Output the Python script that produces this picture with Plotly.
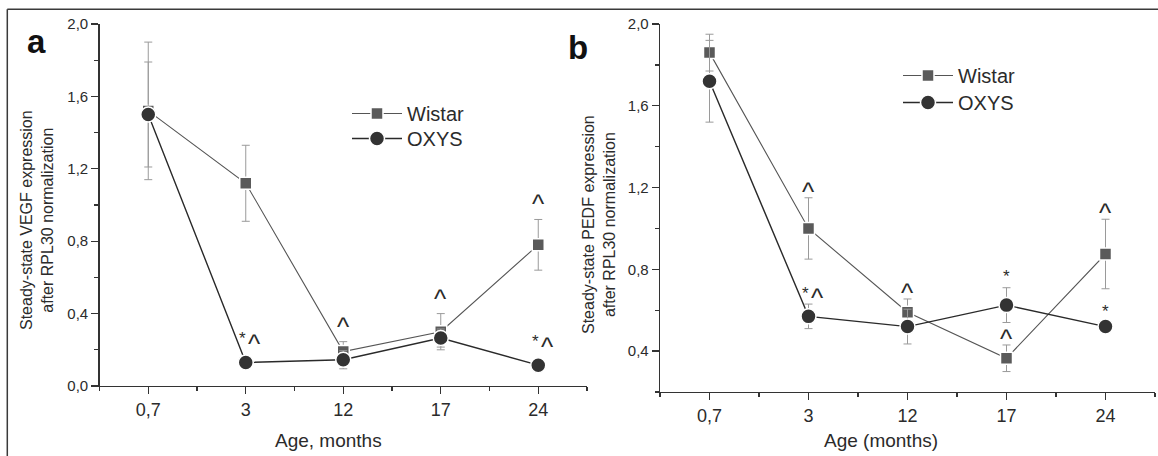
import plotly.graph_objects as go

# ---------------- data ----------------
ages = ["0,7", "3", "12", "17", "24"]

vegf_wistar = [1.52, 1.12, 0.19, 0.30, 0.78]
vegf_wistar_err = [0.38, 0.21, 0.055, 0.10, 0.14]
vegf_oxys = [1.50, 0.13, 0.145, 0.265, 0.115]
vegf_oxys_err = [0.29, 0.02, 0.05, 0.05, 0.02]
vegf_wistar_marks = ["", "", "^", "^", "^"]
vegf_oxys_marks = ["", "*^", "", "", "*^"]

pedf_wistar = [1.86, 1.00, 0.59, 0.365, 0.875]
pedf_wistar_err = [0.09, 0.15, 0.065, 0.065, 0.17]
pedf_oxys = [1.72, 0.57, 0.52, 0.625, 0.52]
pedf_oxys_err = [0.20, 0.06, 0.085, 0.085, 0.02]
pedf_wistar_marks = ["", "^", "^", "^", "^"]
pedf_oxys_marks = ["", "*^", "", "*", "*"]

series_names = ["Wistar", "OXYS"]
panel_labels = ["a", "b"]
y_titles = ["Steady-state VEGF expression<br>after RPL30 normalization",
            "Steady-state PEDF expression<br>after RPL30 normalization"]
x_titles = ["Age, months", "Age (months)"]

# ---------------- layout helpers ----------------
W, H = 1158, 456
FONT = "Liberation Sans, Arial, Helvetica, sans-serif"
TXT = "#2b2b2b"
AX = "#333333"


def fx(px):
    return px / W


def fy(py):
    return 1 - py / H


xpos = list(range(len(ages)))

fig = go.Figure()

styles = {
    "Wistar": dict(symbol="square", size=12, color="#5a5a5a", lcolor="#555555", lwidth=1.1),
    "OXYS": dict(symbol="circle", size=15, color="#333333", lcolor="#2a2a2a", lwidth=1.4),
}

panels = [
    dict(xa="x", ya="y", legends=["legend", "legend2"],
         data=[(vegf_wistar, vegf_wistar_err, vegf_wistar_marks),
               (vegf_oxys, vegf_oxys_err, vegf_oxys_marks)], gap=17),
    dict(xa="x2", ya="y2", legends=["legend3", "legend4"],
         data=[(pedf_wistar, pedf_wistar_err, pedf_wistar_marks),
               (pedf_oxys, pedf_oxys_err, pedf_oxys_marks)], gap=8),
]

annotations = []
for p in panels:
    for name, lg, (vals, errs, marks) in zip(series_names, p["legends"], p["data"]):
        st = styles[name]
        fig.add_trace(go.Scatter(
            x=xpos, y=vals, name=name, mode="lines+markers",
            xaxis=p["xa"], yaxis=p["ya"], legend=lg,
            line=dict(color=st["lcolor"], width=st["lwidth"]),
            marker=dict(symbol=st["symbol"], size=st["size"], color=st["color"],
                        line=dict(color="white", width=1.5)),
            error_y=dict(type="data", array=errs, visible=True,
                         color="#9a9a9a", thickness=1, width=4),
        ))
        for i, m in enumerate(marks):
            if not m:
                continue
            offs = [-3, 9] if len(m) == 2 else [0]
            for ch, dx in zip(m, offs):
                annotations.append(dict(
                    x=xpos[i], y=vals[i] + errs[i], xref=p["xa"], yref=p["ya"],
                    text=ch, showarrow=False, xanchor="center", yanchor="middle",
                    xshift=dx,
                    yshift=p["gap"] + (3 if ch == "*" else -2),
                    font=dict(family=FONT, size=17 if ch == "*" else 26, color=TXT),
                ))

# axis titles / panel labels as annotations
annotations += [
    dict(x=fx(36), y=fy(41), xref="paper", yref="paper", text="<b>a</b>", showarrow=False,
         font=dict(family=FONT, size=33, color="#111"), xanchor="center", yanchor="middle"),
    dict(x=fx(578), y=fy(47), xref="paper", yref="paper", text="<b>b</b>", showarrow=False,
         font=dict(family=FONT, size=33, color="#111"), xanchor="center", yanchor="middle"),
    dict(x=fx(37), y=fy(220), xref="paper", yref="paper", text=y_titles[0], showarrow=False,
         textangle=-90, font=dict(family=FONT, size=16, color=TXT), xanchor="center", yanchor="middle"),
    dict(x=fx(599), y=fy(225), xref="paper", yref="paper", text=y_titles[1], showarrow=False,
         textangle=-90, font=dict(family=FONT, size=16, color=TXT), xanchor="center", yanchor="middle"),
    dict(x=fx(328), y=fy(440), xref="paper", yref="paper", text=x_titles[0], showarrow=False,
         font=dict(family=FONT, size=19, color=TXT), xanchor="center", yanchor="middle"),
    dict(x=fx(881), y=fy(440), xref="paper", yref="paper", text=x_titles[1], showarrow=False,
         font=dict(family=FONT, size=19, color=TXT), xanchor="center", yanchor="middle"),
]

xcommon = dict(
    range=[-0.5, len(ages) - 0.5], tickmode="array", tickvals=xpos, ticktext=ages,
    ticks="outside", ticklen=7, tickwidth=1.3, tickcolor=AX,
    showline=True, linecolor=AX, linewidth=1.3, showgrid=False, zeroline=False,
    tickfont=dict(family=FONT, size=18, color=TXT), automargin=False,
    minor=dict(tickmode="array", tickvals=[v - 0.5 for v in xpos] + [xpos[-1] + 0.5],
               ticks="outside", ticklen=4, tickwidth=1.3, tickcolor=AX, showgrid=False),
    fixedrange=True,
)
ycommon = dict(
    tick0=0, dtick=0.4, tickformat=".1f",
    ticks="outside", ticklen=7, tickwidth=1.3, tickcolor=AX,
    showline=True, linecolor=AX, linewidth=1.3, showgrid=False, zeroline=False,
    tickfont=dict(family=FONT, size=15, color=TXT), automargin=False,
    minor=dict(tick0=0, dtick=0.2, ticks="outside", ticklen=4, tickwidth=1.3,
               tickcolor=AX, showgrid=False),
    fixedrange=True,
)

LEG_W = 50


def legend_at(cx, cy):
    # cx, cy: pixel position of the legend marker
    return dict(x=fx(cx - 5 - LEG_W / 2), y=fy(cy - 19), xanchor="left", yanchor="top",
                font=dict(family=FONT, size=20, color=TXT), bgcolor="rgba(0,0,0,0)",
                itemsizing="trace", itemwidth=LEG_W)


fig.update_layout(
    width=W, height=H, margin=dict(l=0, r=0, t=0, b=0),
    paper_bgcolor="white", plot_bgcolor="white",
    separators=",.",
    showlegend=True,
    xaxis=dict(domain=[fx(99.5), fx(587)], anchor="y", **xcommon),
    yaxis=dict(domain=[fy(386), fy(24)], anchor="x", range=[0, 2.0], **ycommon),
    xaxis2=dict(domain=[fx(660), fx(1155)], anchor="y2", **xcommon),
    yaxis2=dict(domain=[fy(392), fy(24)], anchor="x2", range=[0.2, 2.0], **ycommon),
    legend=legend_at(377, 113),
    legend2=legend_at(377, 138),
    legend3=legend_at(928, 75),
    legend4=legend_at(928, 102),
    annotations=annotations,
    shapes=[
        dict(type="line", xref="paper", yref="paper", x0=fx(7.3), x1=1.0, y0=fy(9.3), y1=fy(9.3),
             line=dict(color="#3a3a3a", width=1.5)),
        dict(type="line", xref="paper", yref="paper", x0=fx(7.3), x1=fx(7.3), y0=fy(9.3), y1=-0.02,
             line=dict(color="#3a3a3a", width=1.5)),
    ],
)

fig.write_html("out.html", config={"displayModeBar": False, "staticPlot": True},
               post_script="document.body.style.margin='0';document.body.style.overflow='hidden';")
